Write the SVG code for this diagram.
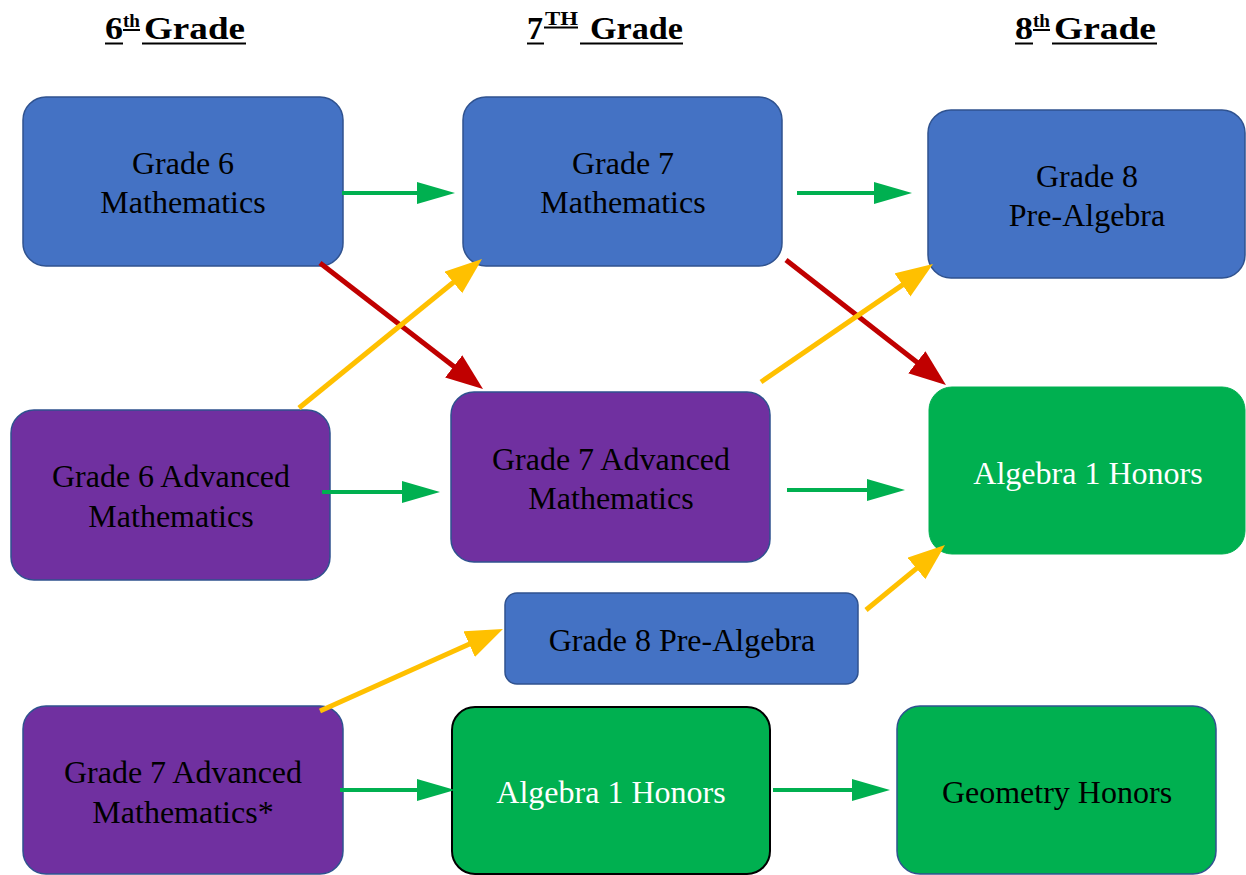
<svg xmlns="http://www.w3.org/2000/svg" width="1246" height="875" viewBox="0 0 1246 875">
<defs>
<style>
.hdr{font-family:"Liberation Serif","Times New Roman",serif;font-weight:bold;font-size:31px;fill:#000}
.sup{font-size:19px}
.ul{stroke:#000;stroke-width:2}
.nt{font-family:"Liberation Serif","Times New Roman",serif;font-size:32px;fill:#000;text-anchor:middle}
.wt{fill:#ffffff}
.blue{fill:#4472C4;stroke:#2F528F;stroke-width:1.5}
.purple{fill:#7030A0;stroke:#2F528F;stroke-width:1.5}
.green{fill:#00B050;stroke:#00B050;stroke-width:1}
.greenk{fill:#00B050;stroke:#000;stroke-width:2}
.greenb{fill:#00B050;stroke:#2F528F;stroke-width:1.5}
.cg{stroke:#00B050;stroke-width:4;fill:none;marker-end:url(#ag)}
.cr{stroke:#C00000;stroke-width:5;fill:none;marker-end:url(#ar)}
.cy{stroke:#FFC000;stroke-width:5;fill:none;marker-end:url(#ay)}
</style>
<marker id="ag" markerUnits="userSpaceOnUse" markerWidth="40" markerHeight="24" refX="1" refY="11" orient="auto"><path d="M0,0 L38,11 L0,22 z" fill="#00B050"/></marker>
<marker id="ar" markerUnits="userSpaceOnUse" markerWidth="40" markerHeight="30" refX="1" refY="14" orient="auto"><path d="M0,0 L37,14 L0,28 z" fill="#C00000"/></marker>
<marker id="ay" markerUnits="userSpaceOnUse" markerWidth="40" markerHeight="30" refX="1" refY="14" orient="auto"><path d="M0,0 L37,14 L0,28 z" fill="#FFC000"/></marker>
</defs>
<rect width="1246" height="875" fill="#ffffff"/>

<g id="headers">
<text class="hdr" y="39"><tspan x="105" textLength="18" lengthAdjust="spacingAndGlyphs">6</tspan><tspan class="sup" x="123" y="27" textLength="17" lengthAdjust="spacingAndGlyphs">th</tspan> <tspan x="144" y="39" textLength="101" lengthAdjust="spacingAndGlyphs">Grade</tspan></text>
<line class="ul" x1="105" y1="43.5" x2="123" y2="43.5"/><line class="ul" x1="123" y1="30" x2="140" y2="30"/><line class="ul" x1="142" y1="43.5" x2="246" y2="43.5"/>
<text class="hdr" y="39"><tspan x="527" textLength="16" lengthAdjust="spacingAndGlyphs">7</tspan><tspan class="sup" x="545" y="25" textLength="33" lengthAdjust="spacingAndGlyphs">TH</tspan> <tspan x="590" y="39" textLength="93" lengthAdjust="spacingAndGlyphs">Grade</tspan></text>
<line class="ul" x1="527" y1="43.5" x2="544" y2="43.5"/><line class="ul" x1="544" y1="27.5" x2="578" y2="27.5"/><line class="ul" x1="580" y1="43.5" x2="683" y2="43.5"/>
<text class="hdr" y="39"><tspan x="1015" textLength="18" lengthAdjust="spacingAndGlyphs">8</tspan><tspan class="sup" x="1033" y="27" textLength="17" lengthAdjust="spacingAndGlyphs">th</tspan> <tspan x="1054" y="39" textLength="102" lengthAdjust="spacingAndGlyphs">Grade</tspan></text>
<line class="ul" x1="1015" y1="43.5" x2="1033" y2="43.5"/><line class="ul" x1="1033" y1="30" x2="1050" y2="30"/><line class="ul" x1="1052" y1="43.5" x2="1157" y2="43.5"/>
</g>

<g id="n-g6math"><rect class="blue" x="23" y="97" width="320" height="169" rx="23"/><text class="nt" x="183" y="174">Grade 6</text><text class="nt" x="183" y="213">Mathematics</text></g>
<g id="n-g7math"><rect class="blue" x="463" y="97" width="319" height="169" rx="23"/><text class="nt" x="623" y="174">Grade 7</text><text class="nt" x="623" y="213">Mathematics</text></g>
<g id="n-g8prealg"><rect class="blue" x="928" y="110" width="317" height="168" rx="23"/><text class="nt" x="1087" y="187">Grade 8</text><text class="nt" x="1087" y="226">Pre-Algebra</text></g>
<g id="n-g6adv"><rect class="purple" x="11" y="410" width="319" height="170" rx="23"/><text class="nt" x="171" y="487">Grade 6 Advanced</text><text class="nt" x="171" y="527">Mathematics</text></g>
<g id="n-g7adv"><rect class="purple" x="451" y="392" width="319" height="170" rx="23"/><text class="nt" x="611" y="470">Grade 7 Advanced</text><text class="nt" x="611" y="509">Mathematics</text></g>
<g id="n-alg1-8"><rect class="green" x="929" y="387" width="316" height="167" rx="23"/><text class="nt wt" x="1088" y="484">Algebra 1 Honors</text></g>
<g id="n-g8prealg-7"><rect class="blue" x="505" y="593" width="353" height="91" rx="12"/><text class="nt" x="682" y="651">Grade 8 Pre-Algebra</text></g>
<g id="n-g7adv-6"><rect class="purple" x="23" y="706" width="320" height="168" rx="23"/><text class="nt" x="183" y="783">Grade 7 Advanced</text><text class="nt" x="183" y="823">Mathematics*</text></g>
<g id="n-alg1-7"><rect class="greenk" x="452" y="707" width="318" height="167" rx="23"/><text class="nt wt" x="611" y="803">Algebra 1 Honors</text></g>
<g id="n-geom"><rect class="greenb" x="897" y="706" width="319" height="168" rx="23"/><text class="nt" x="1057" y="803">Geometry Honors</text></g>

<g id="connectors">
<line class="cg" x1="342" y1="193" x2="418" y2="193"/>
<line class="cg" x1="797" y1="193" x2="875" y2="193"/>
<line class="cg" x1="322" y1="492" x2="403" y2="492"/>
<line class="cg" x1="787" y1="490" x2="868" y2="490"/>
<line class="cg" x1="340" y1="790" x2="418" y2="790"/>
<line class="cg" x1="773" y1="790" x2="853" y2="790"/>
<line class="cr" x1="320" y1="263" x2="454.5" y2="367"/>
<line class="cr" x1="786" y1="260" x2="917.6" y2="362.8"/>
<line class="cy" x1="299" y1="408" x2="454.1" y2="281.8"/>
<line class="cy" x1="761" y1="382" x2="903.3" y2="284.4"/>
<line class="cy" x1="320" y1="711" x2="470.1" y2="643.7"/>
<line class="cy" x1="866" y1="610" x2="917.2" y2="567.9"/>
</g>
</svg>
